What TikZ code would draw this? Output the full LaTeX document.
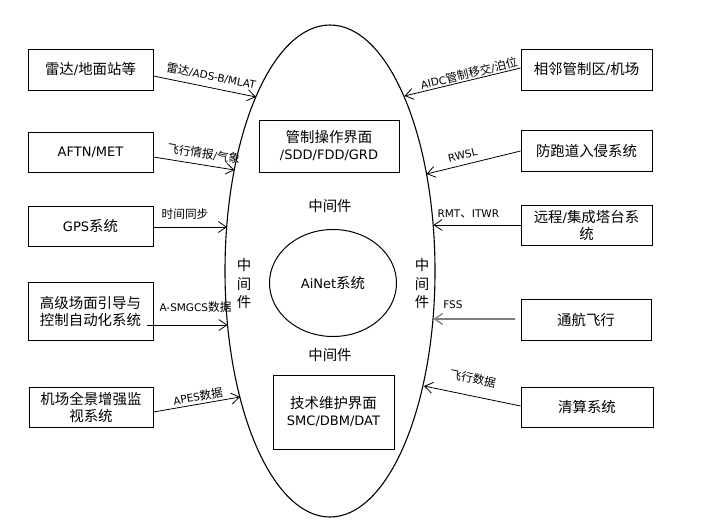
\documentclass[tikz,border=0pt]{standalone}
\usepackage{fontspec}
\setmainfont{DejaVu Sans}
\newfontfamily\cjkf[Scale=1.11]{Noto Sans CJK SC}
\newcommand\zh[1]{{\cjkf #1}}
\usetikzlibrary{shapes.geometric,arrows.meta}
\begin{document}
\begin{tikzpicture}[x=1pt,y=-1pt,
  box/.style={draw, line width=0.8pt, align=center, inner sep=2pt, font=\fontsize{13}{17}\selectfont},
  midtxt/.style={align=center, inner sep=1pt, font=\fontsize{13}{18.5}\selectfont},
  lbl/.style={font=\fontsize{10.5}{12}\selectfont, inner sep=1pt},
  arr/.style={-{Straight Barb[length=8pt,width=11pt]}, line width=0.8pt}]
\fill[white] (0,0) rectangle (708,530);
\useasboundingbox (0,0) rectangle (708,530);

% centre
\node[draw, ellipse, line width=1.1pt, minimum width=210pt, minimum height=492pt, inner sep=0pt] (egg) at (330,271) {};
\node[draw, ellipse, line width=1pt, minimum width=127pt, minimum height=107pt, inner sep=0pt, font=\fontsize{13}{17}\selectfont] (ai) at (333,283) {AiNet\zh{系统}};
\node[box, minimum width=140pt, minimum height=52pt] (ops) at (329,146) {\zh{管制操作界面}\\/SDD/FDD/GRD};
\node[box, minimum width=121pt, minimum height=74pt] (tech) at (333.5,412) {\zh{技术维护界面}\\SMC/DBM/DAT};
\node[midtxt] (m1) at (330,206) {\zh{中间件}};
\node[midtxt] (m2) at (330,355) {\zh{中间件}};
\node[midtxt] (m3) at (244,284) {\zh{中}\\\zh{间}\\\zh{件}};
\node[midtxt] (m4) at (422,284) {\zh{中}\\\zh{间}\\\zh{件}};

% left boxes
\node[box, minimum width=125pt, minimum height=41pt] (L1) at (90.5,69.5) {\zh{雷达}/\zh{地面站等}};
\node[box, minimum width=125pt, minimum height=40pt] (L2) at (90.5,152) {AFTN/MET};
\node[box, minimum width=125pt, minimum height=40pt] (L3) at (90.5,226) {GPS\zh{系统}};
\node[box, minimum width=125pt, minimum height=58pt] (L4) at (90.5,311) {\zh{高级场面引导与}\\\zh{控制自动化系统}};
\node[box, minimum width=124pt, minimum height=40pt] (L5) at (91,407) {\zh{机场全景增强监}\\\zh{视系统}};

% right boxes
\node[box, minimum width=131pt, minimum height=41pt] (R1) at (586.5,69.5) {\zh{相邻管制区}/\zh{机场}};
\node[box, minimum width=131pt, minimum height=41pt] (R2) at (586.5,150.5) {\zh{防跑道入侵系统}};
\node[box, minimum width=131pt, minimum height=40pt] (R3) at (586.5,225) {\zh{远程}/\zh{集成塔台系}\\\zh{统}};
\node[box, minimum width=130pt, minimum height=41pt] (R4) at (586,319.5) {\zh{通航飞行}};
\node[box, minimum width=132pt, minimum height=40pt] (R5) at (587,407) {\zh{清算系统}};

% points on the ellipse
\coordinate (eA1) at (256,97);
\coordinate (eA2) at (234.5,170);
\coordinate (eA3) at (227,227);
\coordinate (eA4) at (227.5,325);
\coordinate (eA5) at (240,397);
\coordinate (eR1) at (404.5,96);
\coordinate (eR2) at (426.5,174);
\coordinate (eR3) at (433.5,225);
\coordinate (eR4) at (433.5,319);
\coordinate (eR5) at (424,386);

% left arrows
\draw[arr] ([yshift=-6.5pt]L1.east) -- node[lbl, sloped, above=5pt, pos=0.54] {\zh{雷达}/ADS-B/MLAT} (eA1);
\draw[arr] ([yshift=-5pt]L2.east) -- node[lbl, sloped, above=4.5pt, pos=0.6] {\zh{飞行情报}/\zh{气象}} (eA2);
\draw[arr] ([yshift=-1pt]L3.east) -- node[lbl, above=6pt, pos=0.43] {\zh{时间同步}} (eA3);
\draw[arr] ([xshift=-6pt,yshift=-14pt]L4.east) -- node[lbl, above=11pt, pos=0.6] {A-SMGCS\zh{数据}} (eA4);
\draw[arr] ([yshift=-5pt]L5.east) -- node[lbl, sloped, above=1pt, pos=0.53] {APES\zh{数据}} (eA5);

% right arrows
\draw[arr] ([yshift=1.5pt]R1.west) -- node[lbl, sloped, above=0pt, pos=0.43] {AIDC\zh{管制移交}/\zh{泊位}} (eR1);
\draw[arr] ([yshift=-0.5pt]R2.west) -- node[lbl, sloped, above=4.5pt, pos=0.59] {RWSL} (eR2);
\draw[arr] (R3.west) -- node[lbl, above=5.5pt, pos=0.6] {RMT\zh{、}ITWR} (eR3);
\draw[arr, draw=gray, line width=1.3pt] ([xshift=-6pt,yshift=0.5pt]R4.west) -- node[lbl, text=black, above=8.5pt, pos=0.76] {FSS} (eR4);
\draw[arr] ([yshift=1pt]R5.west) -- node[lbl, sloped, above=10.5pt, pos=0.53] {\zh{飞行数据}} (eR5);
\end{tikzpicture}
\end{document}
